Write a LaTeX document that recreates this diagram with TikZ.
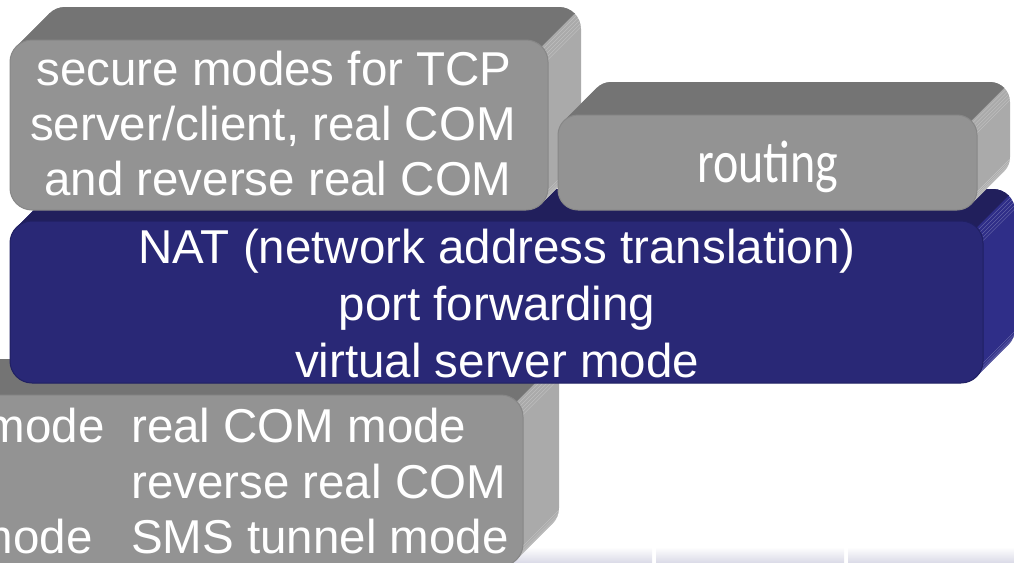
\documentclass[tikz,border=0pt]{standalone}
\usepackage{fontspec}
\setmainfont{Liberation Sans}
\newfontfamily\routingfont{Carlito}
\usepackage{graphicx}
\definecolor{grayFront}{HTML}{939393}
\definecolor{grayTop}{HTML}{747474}
\definecolor{graySide}{HTML}{AAAAAA}
\definecolor{grayEdge}{HTML}{878787}
\definecolor{blueFront}{HTML}{292876}
\definecolor{blueTop}{HTML}{211F5C}
\definecolor{blueSide}{HTML}{2F2E88}
\definecolor{blueEdge}{HTML}{202062}
\definecolor{bandC}{HTML}{DCDCE8}
% #1 x0, #2 y0, #3 x1, #4 y1, #5 corner radius, #6 depth, #7 colour family
\newcommand\slab[7]{%
  \pgfmathsetmacro\sk{0.2929*#5}%
  \fill[#7Side,rounded corners=#5pt] (#1+#6,#2-#6) rectangle (#3+#6,#4-#6);
  \fill[#7Side] (#1+\sk,#2+\sk) -- (#1+\sk+#6,#2+\sk-#6) -- (#3-\sk+#6,#4-\sk-#6) -- (#3-\sk,#4-\sk) -- cycle;
  \fill[#7Top] (#1+\sk,#2+\sk) -- (#1+\sk+#6,#2+\sk-#6) -- (#3-\sk+#6,#2+\sk-#6) -- (#3-\sk,#2+\sk) -- cycle;
  \begin{scope}
    \clip (#1+#6-2,#2-#6-2) rectangle (#3+#6+2,#2+\sk-#6);
    \fill[#7Top,rounded corners=#5pt] (#1+#6,#2-#6) rectangle (#3+#6,#4-#6);
  \end{scope}
  \foreach \a in {6,14,22,30,38} {
    \draw[#7Side!70!white, line width=0.4pt] ({#3-#5+#5*cos(\a)},{#2+#5-#5*sin(\a)}) -- ++(#6,-#6);
    \draw[#7Side!70!white, line width=0.4pt] ({#3-#5+#5*cos(\a)},{#4-#5+#5*sin(\a)}) -- ++(#6,-#6);
  }
  \filldraw[fill=#7Front, draw=#7Edge, line width=1pt, rounded corners=#5pt] (#1,#2) rectangle (#3,#4);
}
\tikzset{
  lbl/.style={text=white, inner sep=0pt, font=\fontsize{47.5}{55}\selectfont},
  bandpart/.style={top color=white, bottom color=bandC, draw=none}
}
\begin{document}
\begin{tikzpicture}[x=1pt,y=-1pt]
\useasboundingbox (0,0) rectangle (1014,562);
% faint band at the bottom
\shade[bandpart] (480,547) rectangle (652,562);
\shade[bandpart] (656,547) rectangle (844,562);
\shade[bandpart] (848,547) rectangle (1014,562);
% bottom slab
\slab{-300}{395}{523}{566}{22}{36}{gray}
\node[lbl, anchor=base east] (b0) at (105,442) {mode};
\node[lbl, anchor=base east] (b4) at (93,553) {mode};
\node[lbl, anchor=base west] (b1) at (131,442) {real COM mode};
\node[lbl, anchor=base west] (b2) at (131,498) {reverse real COM};
\node[lbl, anchor=base west] (b3) at (131,553) {SMS tunnel mode};
% NAT slab
\slab{10}{221}{983}{383}{22}{32}{blue}
\node[lbl, anchor=base] (n1) at (497,263) {NAT (network address translation)};
\node[lbl, anchor=base] (n2) at (497,320) {port forwarding};
\node[lbl, anchor=base] (n3) at (497,377) {virtual server mode};
% secure slab
\slab{10}{40}{548}{210}{22}{33}{gray}
\node[lbl, anchor=base] (s1) at (274,85) {secure modes for TCP};
\node[lbl, anchor=base] (s2) at (273,140) {server/client, real COM};
\node[lbl, anchor=base] (s3) at (278,195) {and reverse real COM};
% routing slab
\slab{558}{115}{977}{210}{20}{33}{gray}
\node[text=white, inner sep=0pt, anchor=base] (r1) at (768,182)
  {\scalebox{0.8}[1]{\routingfont\fontsize{60}{60}\selectfont routing}};
\end{tikzpicture}
\end{document}
